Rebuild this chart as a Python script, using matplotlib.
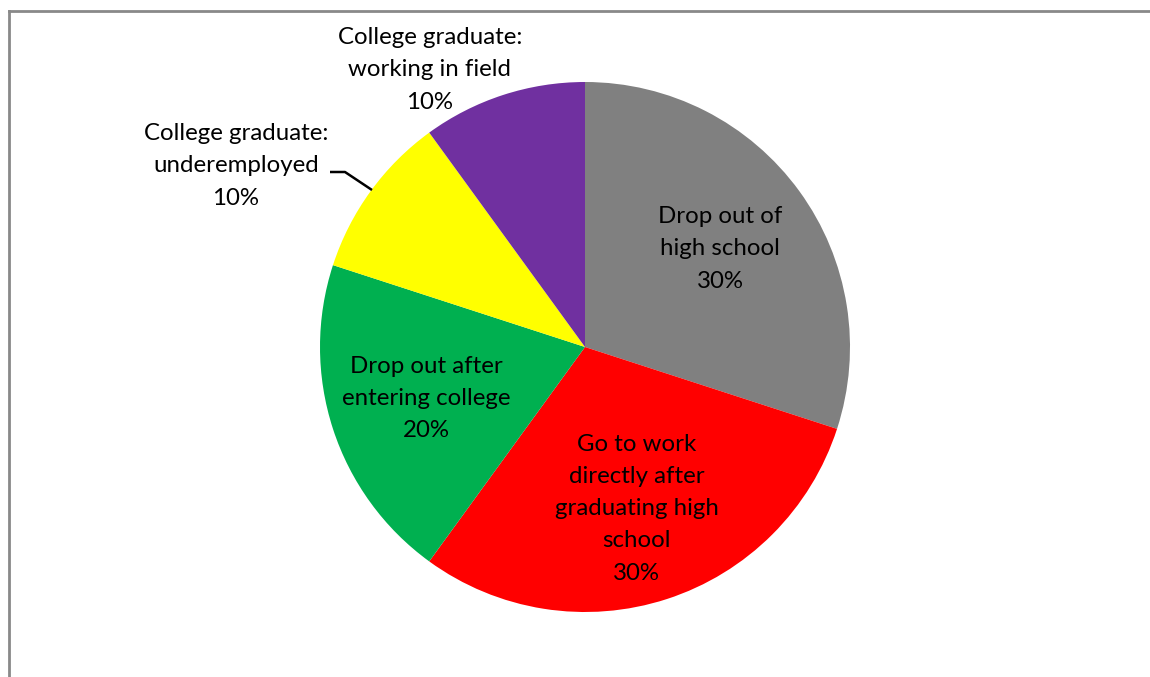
import numpy as np
import matplotlib
matplotlib.use("Agg")
import matplotlib.pyplot as plt
from matplotlib.lines import Line2D

categories = ["Drop out of\nhigh school", "Go to work\ndirectly after\ngraduating high\nschool",
              "Drop out after\nentering college", "College graduate:\nunderemployed",
              "College graduate:\nworking in field"]
values = [30, 30, 20, 10, 10]
colors = ["#808080", "#FF0000", "#00B050", "#FFFF00", "#7030A0"]

W, H = 1150, 677
fig = plt.figure(figsize=(W / 100, H / 100), dpi=100)
ax = fig.add_axes([0, 0, 1, 1])

cx, cy, R = 585, H - 347, 265
wedges, _ = ax.pie(values, colors=colors, startangle=90, counterclock=False,
                   center=(cx, cy), radius=R, frame=True,
                   wedgeprops=dict(linewidth=0))
ax.set_xlim(0, W)
ax.set_ylim(0, H)
ax.set_aspect("equal")
ax.axis("off")

font = dict(family=["Lato", "DejaVu Sans"], fontsize=17.3, color="black",
            linespacing=1.66, ha="center", va="center")

total = sum(values)
# inside labels
for i in range(3):
    w = wedges[i]
    mid = np.deg2rad((w.theta1 + w.theta2) / 2)
    d = 0.63 * R
    x, y = cx + d * np.cos(mid), cy + d * np.sin(mid)
    if i == 1:
        y -= 3
    ax.text(x, y, f"{categories[i]}\n{values[i]/total:.0%}", **font)

# outside labels
ax.text(430, H - 70, f"{categories[4]}\n{values[4]/total:.0%}", **font)
ax.text(236, H - 166, f"{categories[3]}\n{values[3]/total:.0%}", **font)
ax.plot([330, 345, 372], [H - 172, H - 172, H - 190], color="black", lw=1.8,
        solid_capstyle="butt")

# chart border (partially visible)
fig.add_artist(Line2D([9 / W, 1.02], [1 - 11 / H, 1 - 11 / H], color="#898989", lw=2,
                      transform=fig.transFigure))
fig.add_artist(Line2D([9 / W, 9 / W], [1 - 11 / H, -0.02], color="#898989", lw=2,
                      transform=fig.transFigure))

fig.savefig("out.png", dpi=100, facecolor="white")
